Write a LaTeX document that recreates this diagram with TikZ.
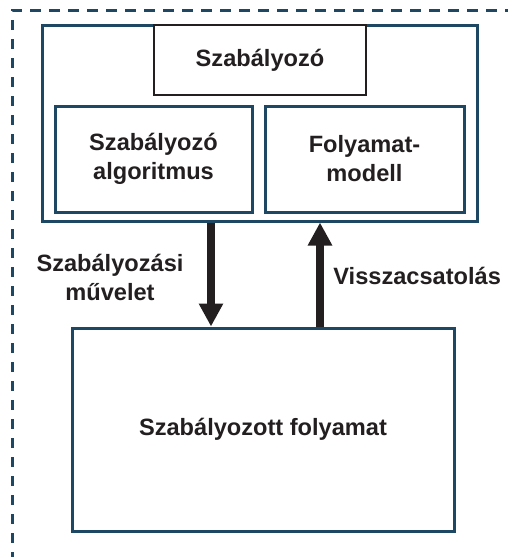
\documentclass[tikz,border=0pt]{standalone}
\usepackage{fontspec}
\setmainfont{Liberation Sans}
\usetikzlibrary{arrows.meta}
\definecolor{frameblue}{HTML}{1E4763}
\definecolor{ink}{HTML}{231F20}
\tikzset{
  bluebox/.style={draw=frameblue, line width=1.5pt, fill=white, inner sep=0pt, rectangle, align=center, text=ink, font=\bfseries\fontsize{11.8}{14.5}\selectfont},
  blackbox/.style={draw=ink, line width=1.2pt, fill=white, inner sep=0pt, rectangle, align=center, text=ink, font=\bfseries\fontsize{11.8}{14.5}\selectfont},
  lbl/.style={inner sep=0pt, align=center, text=ink, font=\bfseries\fontsize{11.8}{14.5}\selectfont},
  bigarrow/.style={draw=ink, line width=4pt, -{Triangle[width=11.5pt,length=11.5pt]}},
  dashframe/.style={draw=frameblue, line width=1.5pt, dash pattern=on 5.25pt off 4.25pt}
}
\begin{document}
\begin{tikzpicture}[x=0.5pt,y=-0.5pt]
\useasboundingbox (0,0) rectangle (508,557);
\draw[dashframe] (12,600) -- (12,10) -- (560,10);
\node[bluebox, minimum width=217.5pt, minimum height=98pt] (outer) at (259.5,123) {};
\node[blackbox, minimum width=106pt, minimum height=35pt] (ctrl) at (260,60) {Szabályozó};
\node[bluebox, minimum width=98.5pt, minimum height=53pt] (algo) at (153.5,159) {Szabályozó\\algoritmus};
\node[bluebox, minimum width=99.5pt, minimum height=53pt] (model) at (364.5,159) {Folyamat-\\modell};
\node[bluebox, minimum width=191pt, minimum height=101.5pt] (proc) at (263,429.5) {Szabályozott folyamat};
\coordinate (dn) at (211,0);
\coordinate (up) at (320,0);
\draw[bigarrow] (outer.south -| dn) -- (proc.north -| dn);
\draw[bigarrow] (proc.north -| up) -- (outer.south -| up);
\node[lbl] (lblA) at (110,277) {Szabályozási\\művelet};
\node[lbl, anchor=base west] (lblB) at (333,284) {Visszacsatolás};
\end{tikzpicture}
\end{document}
